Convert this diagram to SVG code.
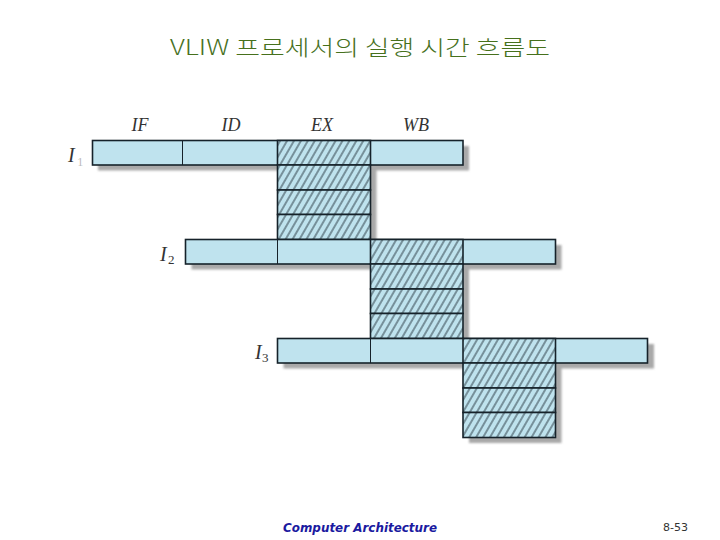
<svg xmlns="http://www.w3.org/2000/svg" width="720" height="540" viewBox="0 0 720 540">
<defs>
<pattern id="hatch" patternUnits="userSpaceOnUse" width="6" height="10" patternTransform="rotate(30)">
<rect width="6" height="10" fill="#bfe3ee"/>
<line x1="1" y1="0" x2="1" y2="10" stroke="#1c2a33" stroke-width="0.9"/>
</pattern>
<filter id="blur" x="-5%" y="-20%" width="110%" height="140%"><feGaussianBlur stdDeviation="0.8"/></filter>
</defs>
<style>
.shadow{fill:#a9a9a9;filter:url(#blur)}
.cell{fill:#bfe3ee;stroke:#16222a;stroke-width:1.6}
.hat{fill:url(#hatch);stroke:#16222a;stroke-width:1.6}
.thin{stroke:#16222a;stroke-width:1}
.stage{font-family:"Liberation Serif",serif;font-style:italic;font-size:18px;fill:#333;text-anchor:middle}
.lbl{font-family:"Liberation Serif",serif;font-style:italic;font-size:20px;fill:#333}
.sub{font-family:"Liberation Serif",serif;font-size:13px;fill:#333}
</style>
<rect width="720" height="540" fill="#ffffff"/>
<text x="360" y="55" text-anchor="middle" font-family="'Noto Sans CJK KR','DejaVu Sans',sans-serif" font-weight="300" font-size="21" fill="#46701c" textLength="380" lengthAdjust="spacingAndGlyphs">VLIW 프로세서의 실행 시간 흐름도</text>
<g id="stages">
<text class="stage" x="140" y="131">IF</text>
<text class="stage" x="231" y="131">ID</text>
<text class="stage" x="322" y="131">EX</text>
<text class="stage" x="416" y="131">WB</text>
</g>
<g id="I1">
<rect class="shadow" x="98" y="146" width="371" height="24.5"/>
<rect class="shadow" x="283.5" y="165" width="93" height="79.5"/>
<rect class="cell" x="92.5" y="140.5" width="370.5" height="24.5"/>
<line class="thin" x1="182.5" y1="140.5" x2="182.5" y2="165"/>
<rect class="hat" x="277.5" y="140.5" width="93" height="24.5"/>
<rect class="hat" x="277.5" y="165" width="93" height="25"/>
<rect class="hat" x="277.5" y="190" width="93" height="24.5"/>
<rect class="hat" x="277.5" y="214.5" width="93" height="25"/>
<text class="lbl" x="68" y="162">I</text><text class="sub" x="77" y="166" fill-opacity="0.35" font-size="8">1</text>
</g>
<g id="I2">
<rect class="shadow" x="191.5" y="245" width="370" height="24.5"/>
<rect class="shadow" x="376.5" y="264" width="92.5" height="79.5"/>
<rect class="cell" x="185.5" y="239.5" width="370" height="24.5"/>
<line class="thin" x1="277.5" y1="239.5" x2="277.5" y2="264"/>
<rect class="hat" x="370.5" y="239.5" width="92.5" height="24.5"/>
<rect class="hat" x="370.5" y="264" width="92.5" height="25"/>
<rect class="hat" x="370.5" y="289" width="92.5" height="24.5"/>
<rect class="hat" x="370.5" y="313.5" width="92.5" height="25"/>
<text class="lbl" x="160" y="261">I</text><text class="sub" x="168" y="264">2</text>
</g>
<g id="I3">
<rect class="shadow" x="283.5" y="344" width="370.5" height="24.5"/>
<rect class="shadow" x="469" y="363" width="92.5" height="80"/>
<rect class="cell" x="277.5" y="338.5" width="370" height="24.5"/>
<line class="thin" x1="370.5" y1="338.5" x2="370.5" y2="363"/>
<rect class="hat" x="463" y="338.5" width="92.5" height="24.5"/>
<rect class="hat" x="463" y="363" width="92.5" height="25"/>
<rect class="hat" x="463" y="388" width="92.5" height="24.5"/>
<rect class="hat" x="463" y="412.5" width="92.5" height="25"/>
<text class="lbl" x="255" y="359">I</text><text class="sub" x="262" y="362">3</text>
</g>
<text x="283" y="532" font-family="'Comic Sans MS','DejaVu Sans',sans-serif" font-style="italic" font-weight="bold" font-size="13" fill="#1a1aa0" textLength="154" lengthAdjust="spacingAndGlyphs">Computer Architecture</text>
<text x="663" y="531" font-family="'DejaVu Sans',sans-serif" font-size="11" fill="#333" textLength="25" lengthAdjust="spacingAndGlyphs">8-53</text>
</svg>
